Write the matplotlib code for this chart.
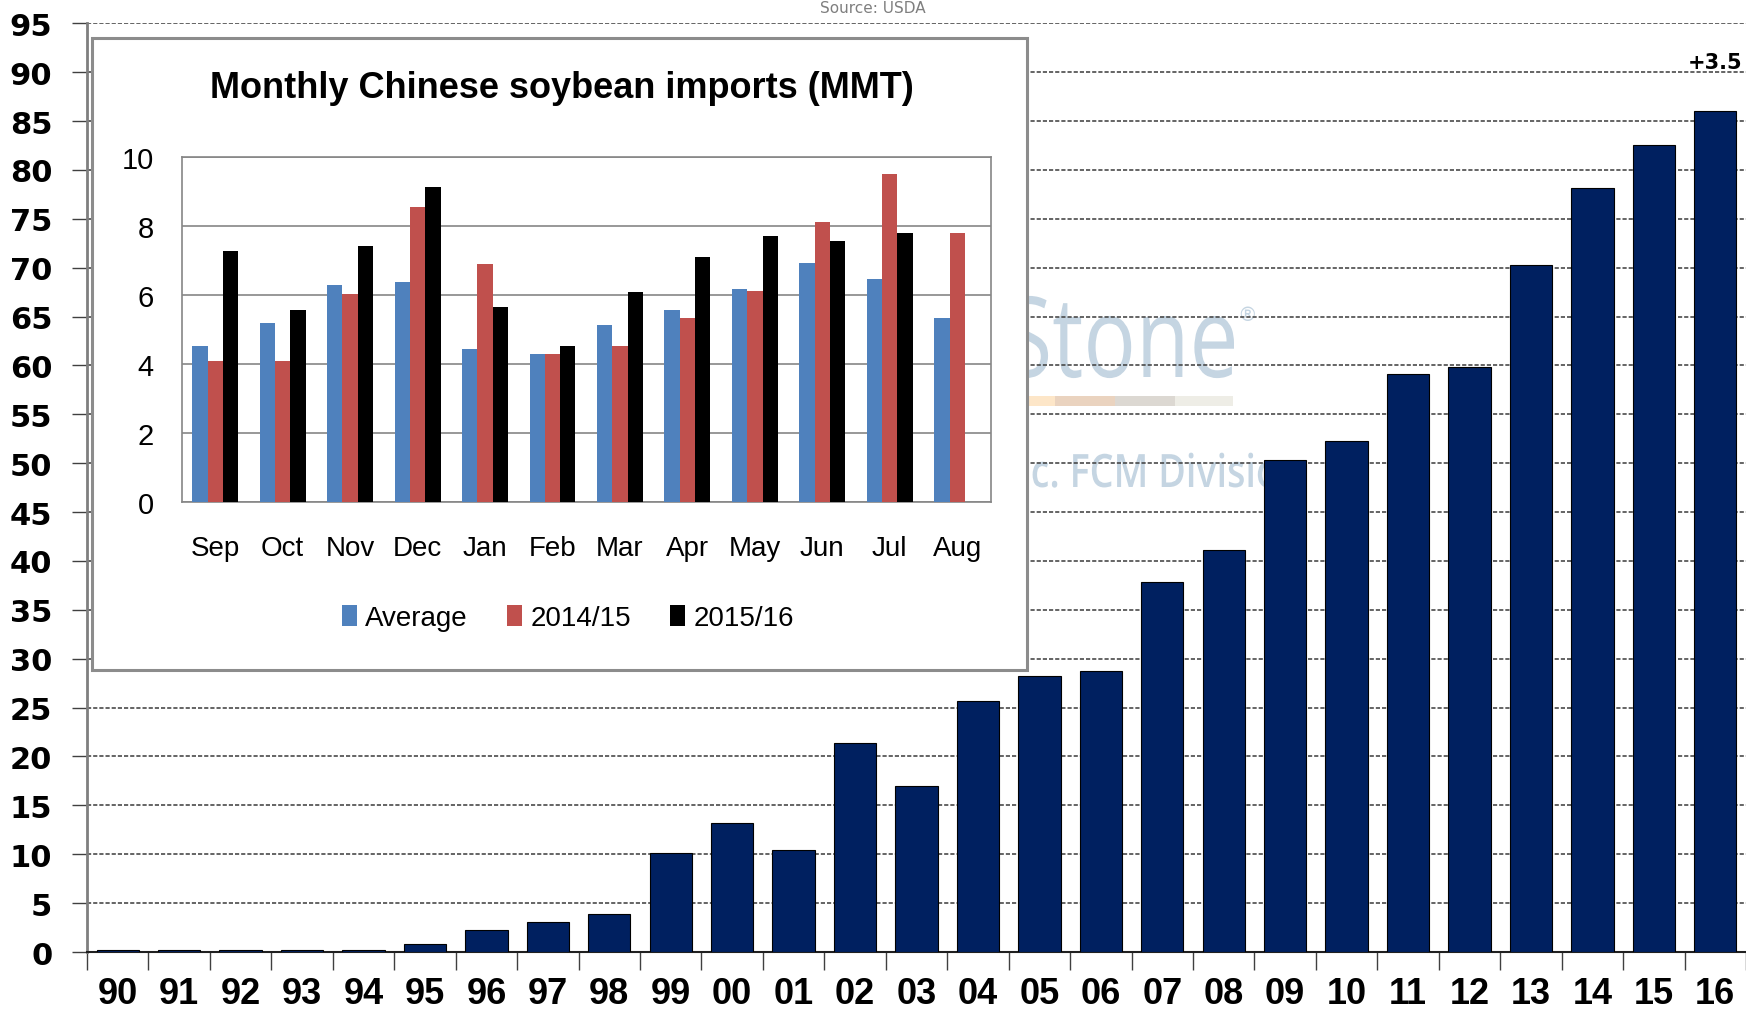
import matplotlib
matplotlib.use('Agg')
import matplotlib.pyplot as plt
from matplotlib.patches import Rectangle, PathPatch
from matplotlib.textpath import TextPath
from matplotlib.font_manager import FontProperties
from matplotlib.transforms import Affine2D, IdentityTransform
import numpy as np

# ---- data ----
years = ['90', '91', '92', '93', '94', '95', '96', '97', '98', '99', '00', '01', '02',
         '03', '04', '05', '06', '07', '08', '09', '10', '11', '12', '13', '14', '15', '16']
imports = [0.2, 0.2, 0.25, 0.2, 0.25, 0.8, 2.3, 3.1, 3.9, 10.1, 13.2, 10.4, 21.4,
           17.0, 25.7, 28.2, 28.7, 37.8, 41.1, 50.3, 52.3, 59.1, 59.8, 70.3, 78.2, 82.5, 86.0]
main_yticks = list(range(0, 96, 5))

months = ['Sep', 'Oct', 'Nov', 'Dec', 'Jan', 'Feb', 'Mar', 'Apr', 'May', 'Jun', 'Jul', 'Aug']
avg = [4.53, 5.19, 6.28, 6.37, 4.43, 4.29, 5.14, 5.57, 6.18, 6.94, 6.47, 5.33]
y1415 = [4.09, 4.09, 6.03, 8.56, 6.90, 4.29, 4.53, 5.33, 6.13, 8.13, 9.51, 7.80]
y1516 = [7.27, 5.57, 7.43, 9.12, 5.65, 4.53, 6.10, 7.09, 7.71, 7.56, 7.80]
series_names = ['Average', '2014/15', '2015/16']
inset_yticks = [0, 2, 4, 6, 8, 10]

W, H = 1746, 1012
fig = plt.figure(figsize=(W / 100, H / 100), dpi=100)
fig.patch.set_facecolor('white')

ARIAL = ['Liberation Sans', 'DejaVu Sans']

# ---- main axes ----
ax = fig.add_axes([87 / W, 0.0583, 1 - 87 / W, 0.976 - 0.0583], zorder=1)
ax.set_facecolor('none')
x = np.arange(len(years))
ax.bar(x, imports, width=0.69, color='#002060', edgecolor='#000000', linewidth=0.8, zorder=3)
ax.set_xlim(-0.5, len(years) - 0.5)
ax.set_ylim(0, 95)
ax.set_yticks(main_yticks)
ax.set_yticklabels([str(v) for v in main_yticks], fontsize=22, fontweight='bold',
                   family=['DejaVu Sans'])
ax.set_xticks(x)
ax.set_xticklabels(years, fontsize=26, fontweight='bold', family=ARIAL)
ax.set_xticks(np.arange(len(years) + 1) - 0.5, minor=True)
ax.tick_params(axis='x', which='major', length=0, pad=17)
ax.tick_params(axis='x', which='minor', length=13, width=1, color='#404040', direction='out')
ax.tick_params(axis='y', length=11, width=1, color='#404040', pad=14)
ax.yaxis.grid(True, linestyle=(0, (2.5, 1.2)), color='#4a4a4a', linewidth=1.2, zorder=1)
ax.set_axisbelow(True)
for s in ['top', 'right']:
    ax.spines[s].set_visible(False)
ax.spines['left'].set_color('#7f7f7f')
ax.spines['left'].set_linewidth(2)
ax.spines['bottom'].set_color('#202020')
ax.spines['bottom'].set_linewidth(1.5)
ax.text(len(years) - 1, 91, '+3.5', ha='center', va='center', fontsize=15,
        fontweight='bold', clip_on=False, zorder=5)

# ---- watermark (behind grid and bars), condensed glyph outlines ----
wm = '#c5d5e2'


def watermark(text, right_px, baseline_px_from_top, em_px, sx, weight='normal'):
    fp = FontProperties(family=['Open Sans', 'DejaVu Sans'], weight=weight)
    tp = TextPath((0, 0), text, size=em_px, prop=fp)
    ext = tp.get_extents()
    tr = Affine2D().scale(sx, 1.0).translate(right_px - ext.x1 * sx, H - baseline_px_from_top)
    patch = PathPatch(tr.transform_path(tp), facecolor=wm, edgecolor='none',
                      transform=IdentityTransform(), zorder=0.5)
    fig.patches.append(patch)


watermark('INTL FCStone', 1234, 378, 112, 0.78)
watermark('INTL FCStone Inc. FCM Division', 1300, 488, 46, 0.82, weight='semibold')
fig.text(1247 / W, 1 - 316 / H, '®', ha='center', va='center', fontsize=14,
         color=wm, zorder=0.5)
for x0, x1, c in [(960, 1055, '#fde6c8'), (1055, 1115, '#ead3bf'),
                  (1115, 1175, '#dcd8d2'), (1175, 1233, '#eeede6')]:
    fig.patches.append(Rectangle((x0 / W, 1 - 407 / H), (x1 - x0) / W, 10 / H,
                                 transform=fig.transFigure, facecolor=c, edgecolor='none',
                                 zorder=0.5))

# ---- source text (top) ----
fig.text(0.5, 0.9995, 'Source: USDA', ha='center', va='top', fontsize=11,
         color='#7f7f7f', zorder=2)

# ---- inset panel ----
fig.patches.append(Rectangle((92 / W, 1 - 671 / H), (1027 - 92) / W, (671 - 39) / H,
                             transform=fig.transFigure, facecolor='white',
                             edgecolor='#8c8c8c', linewidth=2.2, zorder=2))
fig.text(562 / W, 1 - 89 / H, 'Monthly Chinese soybean imports (MMT)', ha='center',
         va='center', fontsize=26, fontweight='bold', family=ARIAL, zorder=4)

iax = fig.add_axes([181.5 / W, 1 - 503 / H, (991 - 181.5) / W, (503 - 158) / H], zorder=3)
iax.set_facecolor('white')
mx = np.arange(len(months))
bw = 0.227
b1 = iax.bar(mx - bw, avg, width=bw, color='#4f81bd', zorder=3)
b2 = iax.bar(mx, y1415, width=bw, color='#c0504d', zorder=3)
b3 = iax.bar(mx[:len(y1516)] + bw, y1516, width=bw, color='#000000', zorder=3)
iax.set_xlim(-0.5, len(months) - 0.5)
iax.set_ylim(0, 10)
iax.set_yticks(inset_yticks)
iax.set_yticklabels([str(v) for v in inset_yticks], fontsize=21, family=ARIAL)
iax.set_xticks(mx)
iax.set_xticklabels(months, fontsize=20, family=ARIAL)
iax.tick_params(axis='y', length=0, pad=20)
iax.tick_params(axis='x', length=0, pad=24)
iax.yaxis.grid(True, color='#868686', linewidth=1.2, zorder=1)
iax.set_axisbelow(True)
for s in iax.spines.values():
    s.set_color('#868686')
    s.set_linewidth(1.2)
leg = fig.legend([b1, b2, b3], series_names, loc='center', bbox_to_anchor=(568 / W, 1 - 619 / H),
                 ncol=3, frameon=False, prop={'family': ARIAL, 'size': 20},
                 handlelength=0.55, handleheight=0.8, handletextpad=0.3, columnspacing=1.4)
leg.set_zorder(4)

fig.savefig('out.png', dpi=100)
